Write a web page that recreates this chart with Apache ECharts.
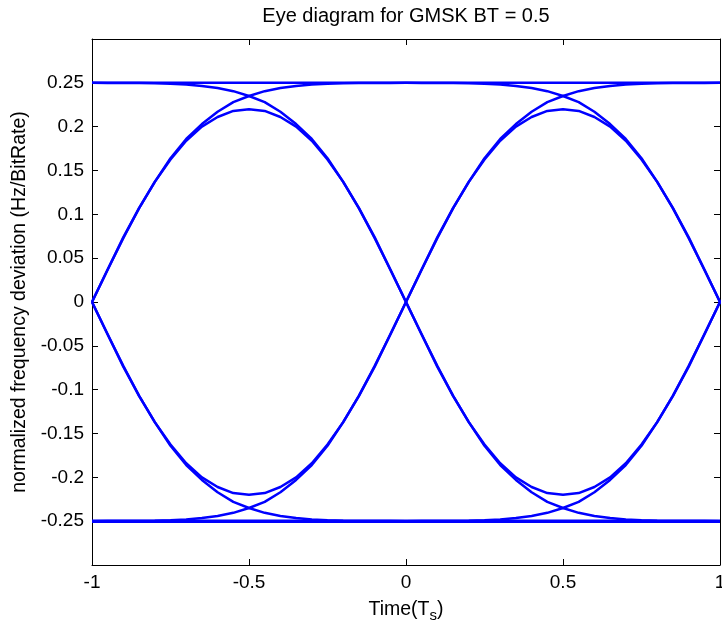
<!DOCTYPE html>
<html>
<head>
<meta charset="utf-8">
<script src="https://cdn.jsdelivr.net/npm/echarts@6/dist/echarts.min.js"></script>
<style>
html,body{margin:0;padding:0;background:#fff;overflow:hidden;width:100%;height:100%;}
#chart{width:100vw;height:100vh;}
</style>
</head>
<body>
<div id="chart"></div>
<script>
// Position within one symbol interval (0 = start, 1 = end)
const symbolOffsets = [0,0.05,0.1,0.15,0.2,0.25,0.3,0.35,0.4,0.45,0.5,0.55,0.6,0.65,0.7,0.75,0.8,0.85,0.9,0.95,1.0];
// Trace rising from a zero crossing to the full deviation
const riseValues = [0,0.037,0.074,0.107,0.137,0.164,0.186,0.203,0.217,0.228,0.235,0.2405,0.244,0.2465,0.248,0.249,0.2494,0.2497,0.2498,0.2499,0.25];
// Isolated-bit trace (zero -> peak -> zero)
const isolatedValues = [0,0.037,0.073,0.107,0.137,0.1625,0.184,0.200,0.211,0.218,0.220,0.218,0.211,0.200,0.184,0.1625,0.137,0.107,0.073,0.037,0];
// Constant full-deviation level
const flatValue = 0.25;
// Start times of the two symbol intervals shown
const intervalStarts = [-1, 0];
const xTickLabels = ['-1','-0.5','0','0.5','1'];
const yTickLabels = ['-0.25','-0.2','-0.15','-0.1','-0.05','0','0.05','0.1','0.15','0.2','0.25'];

const FONT = 'Liberation Sans, Arial, sans-serif';
const BLUE = '#0000ff';

function seg(start, sign, vals) {
  return symbolOffsets.map((v, i) => [start + v, sign * vals[i]]);
}
const series = [];
intervalStarts.forEach(start => {
  [1, -1].forEach(sign => {
    const flat = symbolOffsets.map(() => flatValue);
    const fall = riseValues.slice().reverse();
    [flat, riseValues, fall, isolatedValues].forEach((vals, k) => {
      series.push({
        type: 'line', data: seg(start, sign, vals), showSymbol: false, silent: true,
        lineStyle: { color: BLUE, width: (k === 0 && sign < 0) ? 3.5 : 2.5 }, z: 3
      });
    });
  });
});

function fmt(v) { return String(parseFloat(v.toFixed(2))); }

const chart = echarts.init(document.getElementById('chart'), null, { renderer: 'canvas' });
chart.setOption({
  animation: false,
  backgroundColor: '#fff',
  graphic: [{
    type: 'text', x: 406, y: 16, silent: true,
    style: { text: 'Eye diagram for GMSK BT = 0.5', textAlign: 'center', textVerticalAlign: 'middle',
      fontFamily: FONT, fontSize: 20, fill: '#000' }
  }],
  grid: { left: 92, right: 2, top: 39, bottom: 65, containLabel: false, outerBoundsMode: 'none' },
  xAxis: [{
    type: 'value', min: -1, max: 1, interval: 0.5, position: 'bottom',
    name: 'Time(T{sub|s})', nameLocation: 'middle', nameGap: 31,
    nameTextStyle: { fontFamily: FONT, fontSize: 19.5, color: '#000',
      rich: { sub: { fontFamily: FONT, fontSize: 15, color: '#000', verticalAlign: 'bottom', padding: [12, 0, 0, 0] } } },
    axisLine: { show: true, onZero: false, lineStyle: { color: '#000', width: 1 } },
    axisTick: { show: true, inside: true, length: 6, lineStyle: { color: '#000' } },
    axisLabel: { margin: 8, fontFamily: FONT, fontSize: 19, color: '#000',
      formatter: v => { const i = Math.round((v + 1) / 0.5); return xTickLabels[i] || ''; } },
    splitLine: { show: false }
  }, {
    type: 'value', min: -1, max: 1, interval: 0.5, position: 'top',
    axisLine: { show: true, onZero: false, lineStyle: { color: '#000', width: 1 } },
    axisTick: { show: true, inside: true, length: 6, lineStyle: { color: '#000' } },
    axisLabel: { show: false }, splitLine: { show: false }
  }],
  yAxis: [{
    type: 'value', min: -0.3, max: 0.3, interval: 0.05, position: 'left',
    name: 'normalized frequency deviation (Hz/BitRate)', nameLocation: 'middle', nameGap: 61,
    nameTextStyle: { fontFamily: FONT, fontSize: 19.5, color: '#000' },
    axisLine: { show: true, onZero: false, lineStyle: { color: '#000', width: 1 } },
    axisTick: { show: true, inside: true, length: 6, lineStyle: { color: '#000' } },
    axisLabel: { margin: 8, fontFamily: FONT, fontSize: 19, color: '#000',
      formatter: v => { const s = fmt(v); return yTickLabels.indexOf(s) >= 0 ? s : ''; } },
    splitLine: { show: false }
  }, {
    type: 'value', min: -0.3, max: 0.3, interval: 0.05, position: 'right',
    axisLine: { show: true, onZero: false, lineStyle: { color: '#000', width: 1 } },
    axisTick: { show: true, inside: true, length: 6, lineStyle: { color: '#000' } },
    axisLabel: { show: false }, splitLine: { show: false }
  }],
  series: series
});
</script>
</body>
</html>
